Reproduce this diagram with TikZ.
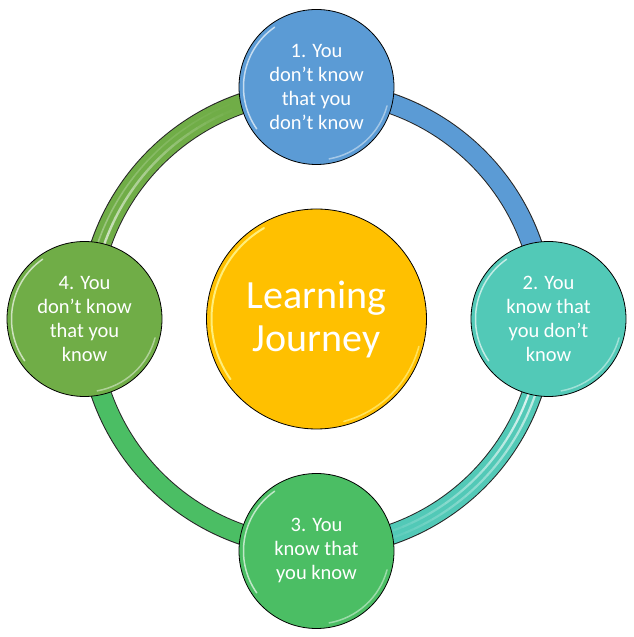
\documentclass[tikz,border=0pt]{standalone}
\usepackage{fontspec}
\setmainfont{Carlito}
\usetikzlibrary{calc}
\definecolor{cblue}{HTML}{5B9BD5}
\definecolor{cteal}{HTML}{52C9B7}
\definecolor{cgreen}{HTML}{4BBE64}
\definecolor{colive}{HTML}{70AD47}
\definecolor{cgold}{HTML}{FFC000}
\pgfdeclarelayer{paper}
\pgfdeclarelayer{bg}
\pgfsetlayers{paper,bg,main}
\tikzset{
  stage/.style={circle, draw=black, line width=0.8pt, minimum size=155pt, inner sep=0pt,
    text=white, align=center, font=\fontsize{20.5}{24}\selectfont},
  hub/.style={circle, draw=black, line width=0.8pt, minimum size=220pt, inner sep=0pt,
    fill=cgold, text=white, align=center, font=\fontsize{40}{43}\selectfont},
  ringout/.style={line width=21pt, draw=black!85},
  ringin/.style={line width=19pt},
  shine/.style={draw=white, line width=1.5pt, line cap=round},
}
\newcommand{\bevel}[2]{% node name, radius
  \draw[shine, opacity=0.65] ($(#1.center)+(125:#2)$) arc[start angle=125, end angle=215, radius=#2];
  \draw[shine, opacity=0.45] ($(#1.center)+(280:#2)$) arc[start angle=280, end angle=345, radius=#2];
}
\begin{document}
\begin{tikzpicture}[x=1pt,y=1pt]
\useasboundingbox (0,0) rectangle (633,637);
\begin{pgfonlayer}{paper}
\fill[white] (0,0) rectangle (633,637);
\end{pgfonlayer}
\coordinate (O) at (316.5,318);
\def\R{228}
\def\Ri{225}
\def\Ro{231.5}

\node[stage, fill=cblue]  (n1) at (316.5,550) {1. You\\don’t know\\that you\\don’t know};
\node[stage, fill=cteal]  (n2) at (548.5,318) {2. You\\know that\\you don’t\\know};
\node[stage, fill=cgreen] (n3) at (316.5,86)  {3. You\\know that\\you know};
\node[stage, fill=colive] (n4) at (84.5,318)  {4. You\\don’t know\\that you\\know};
\node[hub] (c) at (316.5,318) {Learning\\Journey};

\bevel{n1}{73}
\bevel{n2}{73}
\bevel{n3}{73}
\bevel{n4}{73}
\draw[draw=yellow!40, line width=2pt, line cap=round, opacity=0.8] ($(c.center)+(120:105)$) arc[start angle=120, end angle=215, radius=105];
\draw[draw=yellow!40, line width=1.6pt, line cap=round, opacity=0.6] ($(c.center)+(285:106)$) arc[start angle=285, end angle=345, radius=106];

\begin{pgfonlayer}{bg}
  % ring quarters
  \draw[ringout] ($(O)+(90:\R)$) arc[start angle=90, end angle=0, radius=\R];
  \draw[ringin, draw=cblue] ($(O)+(91:\R)$) arc[start angle=91, end angle=-1, radius=\R];
  \draw[ringout] ($(O)+(0:\R)$) arc[start angle=0, end angle=-90, radius=\R];
  \draw[ringin, draw=cteal] ($(O)+(1:\R)$) arc[start angle=1, end angle=-91, radius=\R];
  \draw[ringout] ($(O)+(270:\R)$) arc[start angle=270, end angle=180, radius=\R];
  \draw[ringin, draw=cgreen] ($(O)+(271:\R)$) arc[start angle=271, end angle=179, radius=\R];
  \draw[ringout] ($(O)+(180:\R)$) arc[start angle=180, end angle=90, radius=\R];
  \draw[ringin, draw=colive] ($(O)+(181:\R)$) arc[start angle=181, end angle=89, radius=\R];
  % highlights on olive quarter
  \foreach \i in {0,...,23}{
    \pgfmathsetmacro\sa{172-\i*2.5}
    \pgfmathsetmacro\op{0.8*(1-\i/24)}
    \draw[white, opacity=\op, line width=2.4pt] ($(O)+(\sa:\Ri)$) arc[start angle=\sa, end angle=\sa-2.5, radius=\Ri];
    \draw[white, opacity=\op*0.5, line width=1.6pt] ($(O)+(\sa:\Ro)$) arc[start angle=\sa, end angle=\sa-2.5, radius=\Ro];
  }
  % highlights on teal quarter
  \foreach \i in {0,...,23}{
    \pgfmathsetmacro\sa{-15-\i*2.5}
    \pgfmathsetmacro\op{0.85*(1-\i/24)}
    \draw[white, opacity=\op, line width=2.2pt] ($(O)+(\sa:\Ri)$) arc[start angle=\sa, end angle=\sa-2.5, radius=\Ri];
    \draw[white, opacity=\op*0.8, line width=2.2pt] ($(O)+(\sa:\Ro)$) arc[start angle=\sa, end angle=\sa-2.5, radius=\Ro];
  }
\end{pgfonlayer}
\end{tikzpicture}
\end{document}
